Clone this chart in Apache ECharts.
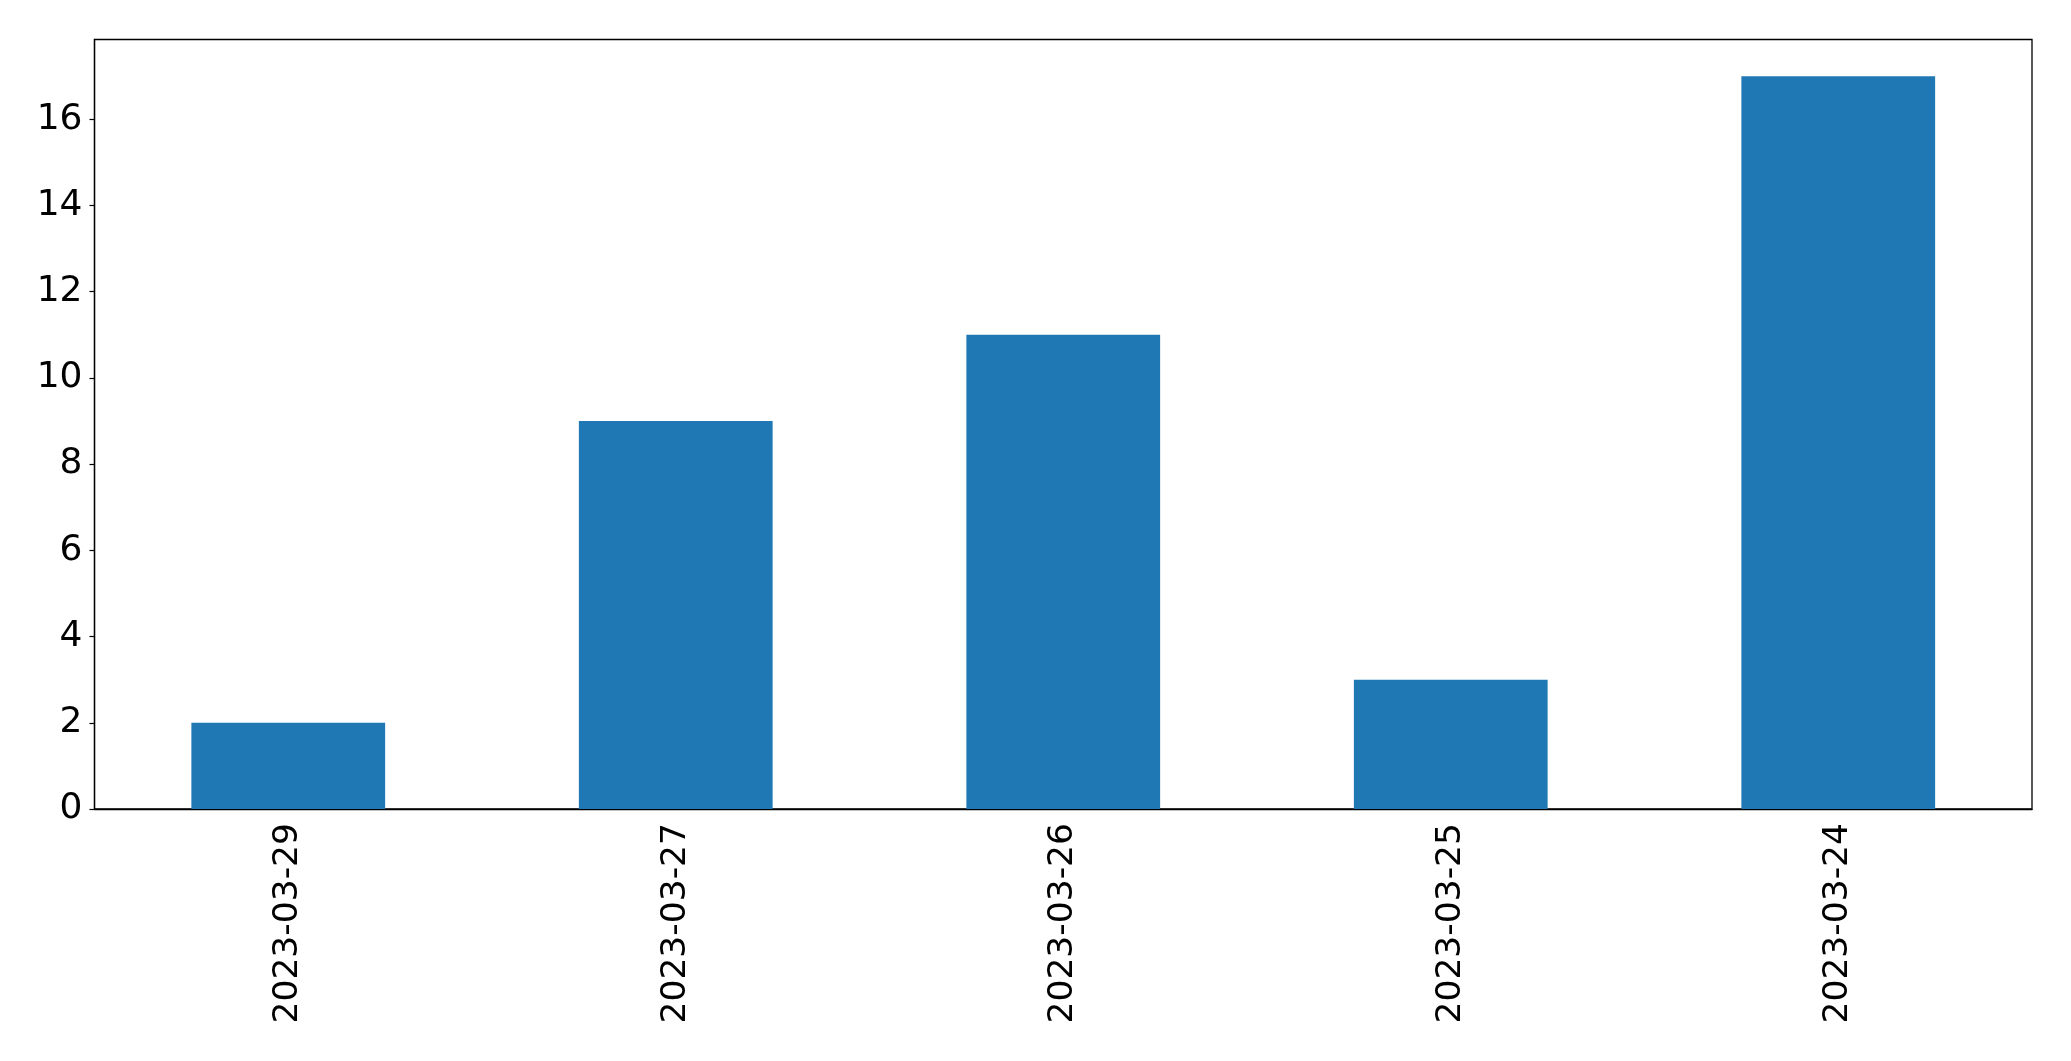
<!DOCTYPE html>
<html>
<head>
<meta charset="utf-8">
<script src="https://cdn.jsdelivr.net/npm/echarts@6/dist/echarts.min.js"></script>
<style>html,body{margin:0;padding:0;background:#fff}#c{width:2071px;height:1061px}</style>
</head>
<body>
<div id="c"></div>
<script>
const categories = ['2023-03-29', '2023-03-27', '2023-03-26', '2023-03-25', '2023-03-24'];
const values = [2, 9, 11, 3, 17];

const chart = echarts.init(document.getElementById('c'), null, {renderer: 'canvas'});
chart.setOption({
  animation: false,
  backgroundColor: '#fff',
  grid: {left: 94.5, top: 39.5, right: 39, bottom: 252, show: true, borderColor: '#000', borderWidth: 1.3, containLabel: false},
  xAxis: {
    type: 'category',
    data: categories,
    axisLine: {lineStyle: {color: '#000', width: 1.3}},
    axisTick: {alignWithLabel: true, length: 5, lineStyle: {color: '#000', width: 1.2}},
    axisLabel: {rotate: 90, margin: 14, color: '#000', fontSize: 34.5, fontFamily: 'DejaVu Sans'},
    splitLine: {show: false}
  },
  yAxis: {
    type: 'value',
    min: 0, max: 17.85, interval: 2,
    axisLine: {show: true, lineStyle: {color: '#000', width: 1.3}},
    axisTick: {show: true, length: 5, lineStyle: {color: '#000', width: 1.2}},
    axisLabel: {margin: 12, color: '#000', fontSize: 36, fontFamily: 'DejaVu Sans', showMaxLabel: false},
    splitLine: {show: false}
  },
  series: [{
    type: 'bar',
    data: values,
    barWidth: '50%',
    itemStyle: {color: '#1f77b4'}
  }]
});
</script>
</body>
</html>
